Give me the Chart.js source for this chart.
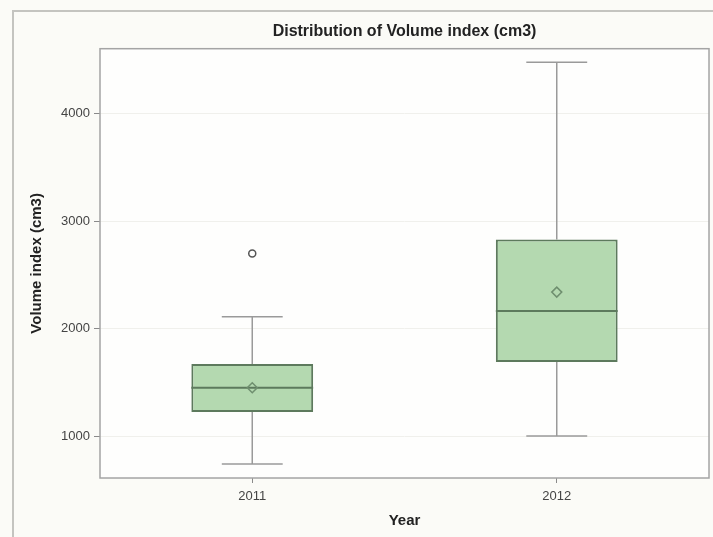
<!DOCTYPE html>
<html>
<head>
<meta charset="utf-8">
<script src="https://cdn.jsdelivr.net/npm/chart.js@4/dist/chart.umd.min.js"></script>
<style>
  html, body { margin: 0; padding: 0; background: #fbfbf7; }
  #wrap { width: 713px; height: 537px; }
</style>
</head>
<body>
<div id="wrap"><canvas id="c" width="713" height="537"></canvas></div>
<script>
// Box plot summary per year (cm3)
const years       = ['2011', '2012'];
const whiskerLow  = [740, 1000];
const q1          = [1225, 1690];
const median      = [1450, 2165];
const q3          = [1670, 2830];
const whiskerHigh = [2110, 4480];
const means       = [1450, 2340];
const outliers    = [2700, null];
const yTickValues = [1000, 2000, 3000, 4000];

const FONT = '"Liberation Sans", Arial, sans-serif';
const BOX_FILL = '#b4d9b0';
const BOX_EDGE = '#5d7a5d';
const WHISKER = '#9a9a9a';

// Page background, outer frame and white plot background
const framePlugin = {
  id: 'frame',
  beforeDraw(chart) {
    const { ctx, chartArea: a, width, height } = chart;
    ctx.save();
    ctx.fillStyle = '#fbfbf7';
    ctx.fillRect(0, 0, width, height);
    ctx.strokeStyle = '#c4c4c0';
    ctx.lineWidth = 2;
    ctx.beginPath();
    ctx.moveTo(13, height);
    ctx.lineTo(13, 11);
    ctx.lineTo(width, 11);
    ctx.stroke();
    ctx.fillStyle = '#fefefd';
    ctx.fillRect(a.left, a.top, a.right - a.left, a.bottom - a.top);
    ctx.restore();
  },
  afterDraw(chart) {
    const { ctx, chartArea: a } = chart;
    ctx.save();
    ctx.strokeStyle = '#a4a4a4';
    ctx.lineWidth = 1.5;
    ctx.strokeRect(a.left, a.top, a.right - a.left, a.bottom - a.top);
    ctx.restore();
  }
};

// Whiskers behind the boxes, medians on top of them
const boxParts = {
  id: 'boxParts',
  beforeDatasetsDraw(chart) {
    const meta = chart.getDatasetMeta(2);
    const y = chart.scales.y;
    const ctx = chart.ctx;
    ctx.save();
    ctx.strokeStyle = WHISKER;
    ctx.lineWidth = 1.5;
    meta.data.forEach((bar, i) => {
      const x = bar.x, half = bar.width / 4;
      const yl = y.getPixelForValue(whiskerLow[i]);
      const yh = y.getPixelForValue(whiskerHigh[i]);
      ctx.beginPath();
      ctx.moveTo(x, yl); ctx.lineTo(x, y.getPixelForValue(q1[i]));
      ctx.moveTo(x, y.getPixelForValue(q3[i])); ctx.lineTo(x, yh);
      ctx.moveTo(x - half, yl); ctx.lineTo(x + half, yl);
      ctx.moveTo(x - half, yh); ctx.lineTo(x + half, yh);
      ctx.stroke();
    });
    ctx.restore();
  },
  afterDatasetDraw(chart, args) {
    if (args.index !== 2) return;
    const meta = chart.getDatasetMeta(2);
    const y = chart.scales.y;
    const ctx = chart.ctx;
    ctx.save();
    ctx.strokeStyle = BOX_EDGE;
    ctx.lineWidth = 2;
    meta.data.forEach((bar, i) => {
      const ym = y.getPixelForValue(median[i]);
      ctx.beginPath();
      ctx.moveTo(bar.x - bar.width / 2, ym);
      ctx.lineTo(bar.x + bar.width / 2, ym);
      ctx.stroke();
    });
    ctx.restore();
  }
};

new Chart(document.getElementById('c'), {
  type: 'bar',
  data: {
    labels: years,
    datasets: [
      {
        type: 'line',
        label: 'Mean',
        data: means,
        showLine: false,
        pointStyle: 'rectRot',
        pointRadius: 5,
        pointBorderWidth: 1.5,
        pointBorderColor: '#6f8f6f',
        pointBackgroundColor: 'rgba(0,0,0,0)',
        order: 1
      },
      {
        type: 'line',
        label: 'Outlier',
        data: outliers,
        showLine: false,
        pointStyle: 'circle',
        pointRadius: 3.5,
        pointBorderWidth: 1.5,
        pointBorderColor: '#555555',
        pointBackgroundColor: 'rgba(0,0,0,0)',
        order: 1
      },
      {
        label: 'Volume index (cm3)',
        data: years.map((_, i) => [q1[i], q3[i]]),
        backgroundColor: BOX_FILL,
        borderColor: BOX_EDGE,
        borderWidth: 2,
        borderSkipped: false,
        barPercentage: 0.4,
        categoryPercentage: 1,
        order: 3
      }
    ]
  },
  options: {
    responsive: false,
    animation: false,
    events: [],
    layout: { autoPadding: false, padding: { left: 25, right: 4, top: 0, bottom: 0 } },
    plugins: {
      legend: { display: false },
      tooltip: { enabled: false },
      title: {
        display: true,
        fullSize: false,
        text: 'Distribution of Volume index (cm3)',
        color: '#222222',
        font: { family: FONT, size: 16, weight: 'bold' },
        padding: { top: 22, bottom: 7.5 }
      }
    },
    scales: {
      x: {
        type: 'category',
        offset: true,
        grid: { offset: false, drawOnChartArea: false, drawTicks: true, tickLength: 5, tickColor: '#8a8a8a' },
        border: { display: false },
        ticks: { color: '#444444', padding: 6, font: { family: FONT, size: 13 } },
        title: {
          display: true, text: 'Year', color: '#222222',
          font: { family: FONT, size: 15, weight: 'bold' },
          padding: { top: 4, bottom: 7 }
        },
        afterFit(s) { s.height = 59; s.paddingLeft = 0; s.paddingRight = 0; }
      },
      y: {
        min: 610,
        max: 4605,
        grid: { color: '#f0f0ec', lineWidth: 1, tickLength: 6, tickColor: '#8a8a8a' },
        border: { display: false },
        afterBuildTicks(s) { s.ticks = yTickValues.map(v => ({ value: v })); },
        ticks: {
          color: '#444444', padding: 4, font: { family: FONT, size: 13 },
          callback: v => String(v)
        },
        title: {
          display: true, text: 'Volume index (cm3)', color: '#222222',
          font: { family: FONT, size: 15, weight: 'bold' },
          padding: { top: 3, bottom: 4 }
        },
        afterFit(s) { s.width = 75; s.paddingTop = 0; s.paddingBottom = 0; }
      }
    }
  },
  plugins: [framePlugin, boxParts]
});
</script>
</body>
</html>
